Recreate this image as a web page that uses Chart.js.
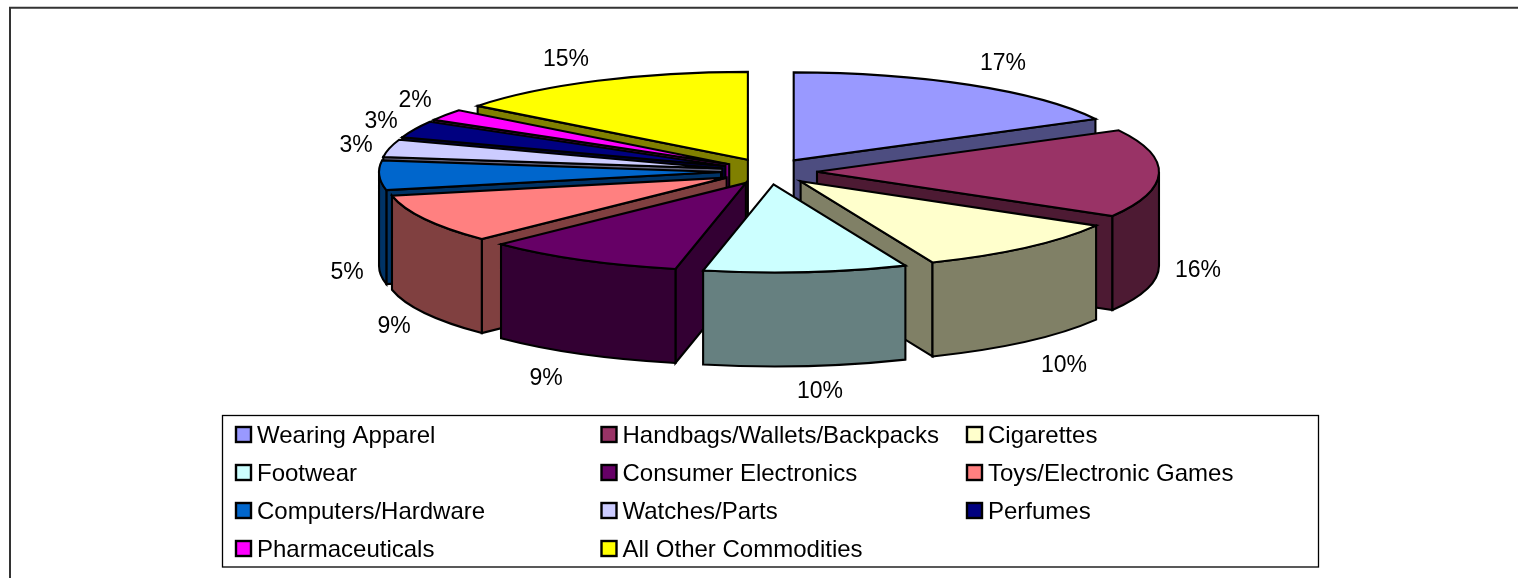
<!DOCTYPE html>
<html>
<head>
<meta charset="utf-8">
<style>html,body{margin:0;padding:0;background:#fff}canvas{display:block}</style>
<script src="https://cdn.jsdelivr.net/npm/chart.js@4/dist/chart.umd.min.js"></script>
</head>
<body>
<canvas id="c" width="1518" height="578"></canvas>
<script>
const categories = ['Wearing Apparel','Handbags/Wallets/Backpacks','Cigarettes','Footwear','Consumer Electronics','Toys/Electronic Games','Computers/Hardware','Watches/Parts','Perfumes','Pharmaceuticals','All Other Commodities'];
const shares = [17.2,16.2,10.3,9.6,9.4,9.0,5.4,3.2,3.1,2.1,14.5];
const topColors = ['#9999FF','#993366','#FFFFCC','#CCFFFF','#660066','#FF8080','#0066CC','#CCCCFF','#000080','#FF00FF','#FFFF00'];
const sideColors = ['#4D4D80','#4D1A33','#808066','#668080','#330033','#804040','#003366','#666680','#000040','#800080','#808000'];
const pctLabelPos = [[1003,62],[1198,269],[1064,364],[820,390],[546,377],[394,325],[347,271],[356,144],[381,120],[415,99],[566,58]];

const FONT = '"Liberation Sans", Arial, sans-serif';
const SQUASH = 88/342, DEPTH = 94, EX = 48, EY = 13, LW = 2.1;

function place(ctx, arc){
  const mid = (arc.startAngle + arc.endAngle)/2;
  return {x: arc.x + Math.cos(mid)*EX, y: arc.y + Math.sin(mid)*EY};
}
function wall(ctx, fill){ ctx.closePath(); ctx.fillStyle = fill; ctx.fill(); ctx.stroke(); }

const pie3d = {
  id:'pie3d',
  beforeDatasetDraw(chart, args){
    const ctx = chart.ctx;
    const arcs = chart.getDatasetMeta(args.index).data.map((a,i)=>({a,i}));
    arcs.sort((p,q)=>Math.sin((p.a.startAngle+p.a.endAngle)/2)-Math.sin((q.a.startAngle+q.a.endAngle)/2));
    ctx.save();
    ctx.lineWidth = LW; ctx.strokeStyle = '#000'; ctx.lineJoin = 'miter'; ctx.miterLimit = 5;
    // extruded sides, back to front
    arcs.forEach(({a,i})=>{
      const c = place(ctx,a), r = a.outerRadius, b = r*SQUASH, s = a.startAngle, e = a.endAngle, col = sideColors[i];
      const rim = t=>[c.x+r*Math.cos(t), c.y+b*Math.sin(t)];
      const face = t=>{
        const p = rim(t);
        ctx.beginPath(); ctx.moveTo(c.x,c.y); ctx.lineTo(p[0],p[1]); ctx.lineTo(p[0],p[1]+DEPTH); ctx.lineTo(c.x,c.y+DEPTH);
        wall(ctx,col);
      };
      if (Math.cos(s) < 0) face(s);
      if (Math.cos(e) > 0) face(e);
      const t0 = Math.max(s,0), t1 = Math.min(e,Math.PI);
      if (t1 > t0){
        ctx.beginPath();
        ctx.ellipse(c.x,c.y,r,b,0,t0,t1);
        ctx.ellipse(c.x,c.y+DEPTH,r,b,0,t1,t0,true);
        wall(ctx,col);
      }
    });
    // top faces
    arcs.forEach(({a})=>{
      const c = place(ctx,a);
      ctx.save();
      ctx.translate(c.x,c.y); ctx.scale(1,SQUASH); ctx.translate(-a.x,-a.y);
      a.draw(ctx);
      ctx.restore();
      ctx.beginPath();
      ctx.moveTo(c.x,c.y);
      ctx.ellipse(c.x,c.y,a.outerRadius,a.outerRadius*SQUASH,0,a.startAngle,a.endAngle);
      ctx.closePath();
      ctx.stroke();
    });
    ctx.restore();
    return false;
  },
  afterDraw(chart){
    const ctx = chart.ctx;
    ctx.save();
    // outer frame
    ctx.strokeStyle = '#333'; ctx.lineWidth = 2;
    ctx.beginPath(); ctx.moveTo(10,578); ctx.lineTo(10,7.7); ctx.lineTo(1518,7.7); ctx.stroke();
    // percentage labels
    ctx.fillStyle = '#000'; ctx.textAlign = 'center'; ctx.textBaseline = 'alphabetic';
    ctx.font = '23px '+FONT;
    const data = chart.data.datasets[0].data;
    data.forEach((v,i)=>ctx.fillText(Math.round(v)+'%', pctLabelPos[i][0], pctLabelPos[i][1]+8));
    // legend
    ctx.strokeStyle = '#000'; ctx.lineWidth = 1.3;
    ctx.strokeRect(222.5,415.5,1096,151.5);
    ctx.textAlign = 'left'; ctx.font = '24px '+FONT;
    const colX = [235,600.5,966], rowY = [443,481,519,557];
    chart.data.labels.forEach((t,i)=>{
      const x = colX[i%3], y = rowY[Math.floor(i/3)];
      ctx.fillStyle = topColors[i];
      ctx.fillRect(x+1,y-16,15,15);
      ctx.strokeStyle = '#000'; ctx.lineWidth = 2.4;
      ctx.strokeRect(x+1,y-16,15,15);
      ctx.fillStyle = '#000';
      ctx.fillText(t,x+22,y);
    });
    ctx.restore();
  }
};

new Chart(document.getElementById('c'),{
  type:'pie',
  plugins:[pie3d],
  data:{labels:categories,datasets:[{data:shares,backgroundColor:topColors,borderWidth:0,clip:false}]},
  options:{
    responsive:false,animation:false,events:[],
    radius:342,
    layout:{padding:{left:20,right:0,top:0,bottom:235}},
    plugins:{legend:{display:false},tooltip:{enabled:false}}
  }
});
</script>
</body>
</html>
